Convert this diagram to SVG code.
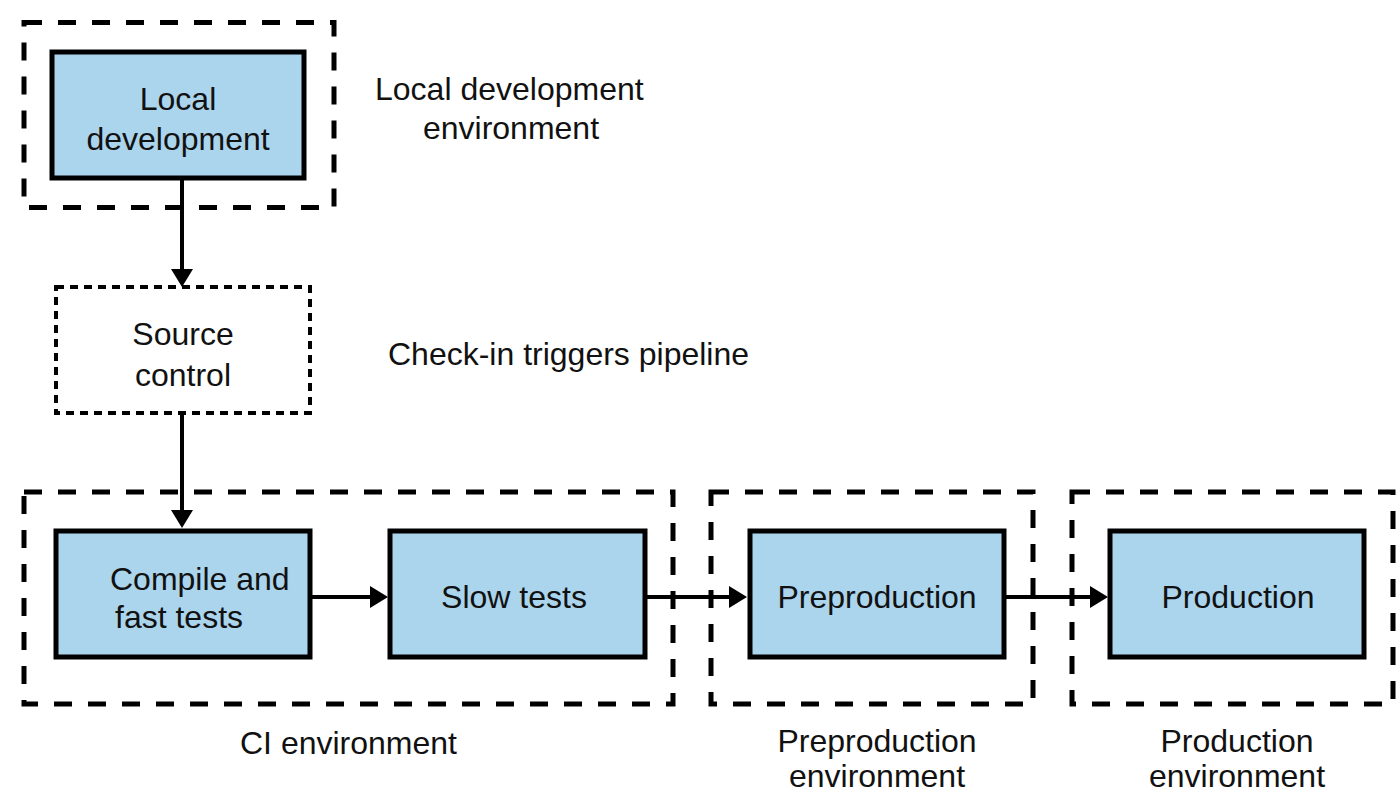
<svg xmlns="http://www.w3.org/2000/svg" width="1400" height="801" viewBox="0 0 1400 801">
  <style>
    .env { fill: none; stroke: #000; stroke-width: 5; stroke-dasharray: 18 16; }
    .box { fill: #abd4ed; stroke: #000; stroke-width: 5; }
    .src { fill: none; stroke: #000; stroke-width: 4; stroke-dasharray: 8 6; }
    .t { font-family: "Liberation Sans", Arial, sans-serif; font-size: 32px; fill: #111; }
    .c { text-anchor: middle; }
    .conn line { stroke: #000; stroke-width: 4; }
  </style>
  <defs>
    <marker id="arrow" viewBox="0 0 18 22" refX="1" refY="11" markerWidth="18" markerHeight="22" markerUnits="userSpaceOnUse" orient="auto">
      <path d="M0,0 L18,11 L0,22 z" fill="#000"/>
    </marker>
  </defs>
  <rect width="1400" height="801" fill="#fff"/>

  <g id="env-local">
    <rect class="env" x="24" y="22.5" width="310" height="185"/>
    <text class="t" x="375" y="100">Local development</text>
    <text class="t c" x="511" y="139">environment</text>
  </g>
  <g id="env-ci">
    <rect class="env" x="24" y="492" width="649" height="212"/>
    <text class="t" x="240" y="754">CI environment</text>
  </g>
  <g id="env-preprod">
    <rect class="env" x="711" y="492" width="322" height="212"/>
    <text class="t c" x="877" y="752">Preproduction</text>
    <text class="t c" x="877" y="787">environment</text>
  </g>
  <g id="env-prod">
    <rect class="env" x="1072" y="492" width="321" height="212"/>
    <text class="t c" x="1237" y="752">Production</text>
    <text class="t c" x="1237" y="787">environment</text>
  </g>

  <g id="local-development">
    <rect class="box" x="52" y="52" width="252" height="126"/>
    <text class="t c" x="178" y="110">Local</text>
    <text class="t c" x="178" y="150">development</text>
  </g>
  <g id="source-control">
    <rect class="src" x="56" y="287" width="254" height="126"/>
    <text class="t c" x="183" y="345">Source</text>
    <text class="t c" x="183" y="386">control</text>
    <text class="t" x="388" y="365">Check-in triggers pipeline</text>
  </g>
  <g id="compile">
    <rect class="box" x="56" y="531" width="254" height="126"/>
    <text class="t" x="110" y="590">Compile and</text>
    <text class="t" x="115" y="628">fast tests</text>
  </g>
  <g id="slow-tests">
    <rect class="box" x="390" y="531" width="255" height="126"/>
    <text class="t c" x="514" y="608">Slow tests</text>
  </g>
  <g id="preproduction">
    <rect class="box" x="750" y="531" width="254" height="126"/>
    <text class="t c" x="877" y="608">Preproduction</text>
  </g>
  <g id="production">
    <rect class="box" x="1110" y="531" width="254" height="126"/>
    <text class="t c" x="1238" y="608">Production</text>
  </g>

  <g id="connectors" class="conn">
    <line x1="182" y1="180" x2="182" y2="270" marker-end="url(#arrow)"/>
    <line x1="182" y1="415" x2="182" y2="511" marker-end="url(#arrow)"/>
    <line x1="312" y1="597" x2="371" y2="597" marker-end="url(#arrow)"/>
    <line x1="647" y1="597" x2="730" y2="597" marker-end="url(#arrow)"/>
    <line x1="1006" y1="597" x2="1091" y2="597" marker-end="url(#arrow)"/>
  </g>
</svg>
